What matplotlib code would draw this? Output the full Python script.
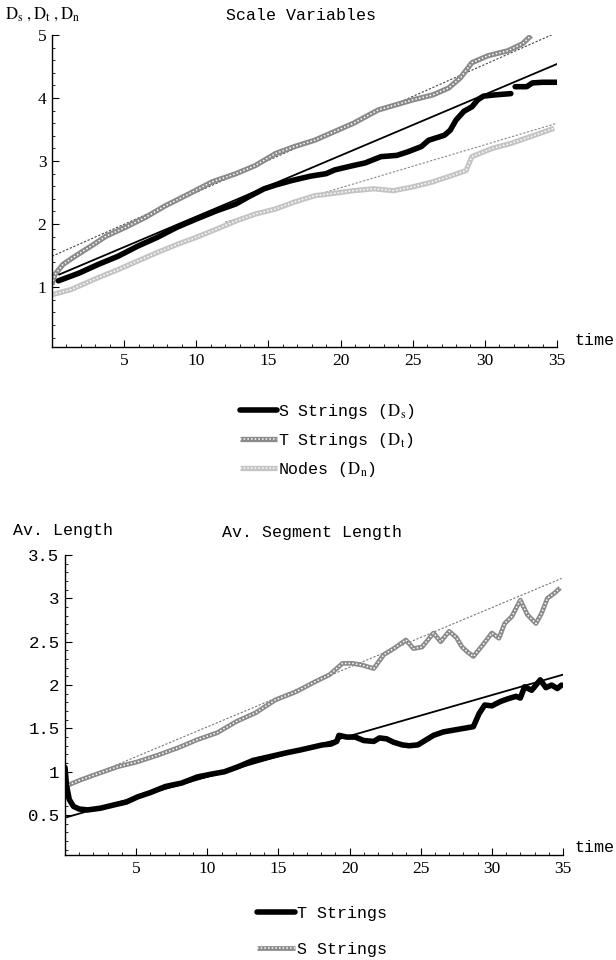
# plot.py - scale variables and average segment length vs time
import matplotlib
matplotlib.use("Agg")
import matplotlib.pyplot as plt
from matplotlib.legend_handler import HandlerTuple

plt.rcParams["mathtext.fontset"] = "stix"

# --- top panel: scale variables ---
s_t = [0.44, 1.85, 3.2, 4.58, 5.94, 7.3, 8.66, 10.0, 11.4, 12.75, 13.6, 14.7, 15.5,
       16.6, 17.9, 19.0, 19.6, 20.9, 21.7, 22.8, 23.9, 24.7, 25.6, 26.1, 27.2, 27.6,
       28.0, 28.55, 29.1, 29.5, 29.9, 30.7, 31.8]
s_v = [1.10, 1.22, 1.36, 1.49, 1.65, 1.79, 1.95, 2.08, 2.21, 2.32, 2.43, 2.56, 2.62,
       2.69, 2.76, 2.80, 2.86, 2.93, 2.97, 3.07, 3.09, 3.15, 3.23, 3.33, 3.41, 3.49,
       3.65, 3.79, 3.86, 3.97, 4.03, 4.05, 4.07]
s2_t = [32.1, 32.9, 33.3, 34.0, 35.0]
s2_v = [4.18, 4.18, 4.24, 4.25, 4.25]

t_t = [0.0, 0.2, 0.76, 1.6, 2.7, 3.76, 5.1, 6.5, 7.85, 9.5, 11.1, 12.75, 14.1, 15.5,
       16.8, 18.2, 19.6, 20.9, 22.6, 23.65, 25.0, 26.4, 27.5, 28.3, 29.1, 30.2, 31.6,
       32.6, 33.2]
t_v = [1.04, 1.20, 1.36, 1.49, 1.65, 1.81, 1.95, 2.11, 2.29, 2.48, 2.67, 2.80, 2.93,
       3.12, 3.23, 3.33, 3.47, 3.60, 3.81, 3.88, 3.97, 4.05, 4.16, 4.32, 4.56, 4.67,
       4.75, 4.86, 4.99]

n_t = [0.0, 1.3, 3.2, 4.6, 5.9, 7.3, 8.7, 10.0, 11.4, 12.75, 14.1, 15.5, 16.8, 18.2,
       19.6, 20.9, 22.3, 23.65, 25.0, 26.4, 27.7, 28.7, 29.1, 30.5, 31.8, 33.2, 34.8]
n_v = [0.88, 0.96, 1.15, 1.28, 1.41, 1.55, 1.68, 1.79, 1.92, 2.05, 2.16, 2.24, 2.35,
       2.45, 2.49, 2.53, 2.56, 2.53, 2.59, 2.67, 2.77, 2.85, 3.07, 3.20, 3.28, 3.39, 3.52]

s_fit_t, s_fit_v = [0.5, 35.0], [1.20, 4.54]
t_fit_t, t_fit_v = [0.0, 35.0], [1.49, 5.04]
n_fit_t, n_fit_v = [12.0, 35.0], [2.03, 3.60]

# --- bottom panel: average segment length ---
bt_t = [0.0, 0.1, 0.3, 0.6, 1.0, 1.6, 2.5, 3.5, 4.3, 5.1, 6.0, 7.06, 8.2, 9.3, 10.2,
        11.2, 12.2, 13.2, 14.0, 14.8, 15.6, 16.5, 17.3, 18.1, 18.7, 19.1, 19.25, 19.8,
        20.4, 21.0, 21.7, 22.1, 22.6, 23.1, 23.7, 24.2, 24.8, 25.4, 25.9, 26.6, 27.3,
        28.0, 28.7, 29.1, 29.5, 30.0, 30.6, 31.1, 31.7, 32.0, 32.3, 32.8, 33.1, 33.4,
        33.8, 34.2, 34.6, 34.9]
bt_v = [1.05, 0.85, 0.68, 0.60, 0.57, 0.56, 0.58, 0.62, 0.65, 0.71, 0.76, 0.83, 0.87,
        0.94, 0.97, 1.00, 1.06, 1.13, 1.16, 1.19, 1.22, 1.25, 1.28, 1.31, 1.32, 1.35,
        1.42, 1.40, 1.40, 1.36, 1.35, 1.39, 1.38, 1.34, 1.31, 1.30, 1.31, 1.37, 1.42,
        1.46, 1.48, 1.50, 1.52, 1.67, 1.77, 1.76, 1.81, 1.84, 1.87, 1.85, 1.98, 1.94,
        2.00, 2.06, 1.97, 2.00, 1.96, 2.00]

bs_t = [0.0, 1.0, 2.0, 3.74, 5.0, 6.5, 8.0, 9.3, 10.7, 12.05, 13.4, 14.8, 16.2, 17.6,
        18.6, 19.5, 20.2, 20.9, 21.7, 22.4, 23.1, 23.96, 24.5, 25.1, 25.9, 26.4, 27.0,
        27.5, 27.9, 28.3, 28.7, 29.3, 30.0, 30.5, 30.9, 31.4, 32.0, 32.5, 33.1, 33.5,
        33.9, 34.4, 34.8]
bs_v = [0.83, 0.90, 0.96, 1.06, 1.11, 1.19, 1.28, 1.37, 1.45, 1.58, 1.68, 1.83, 1.92,
        2.04, 2.12, 2.25, 2.25, 2.23, 2.19, 2.35, 2.42, 2.52, 2.42, 2.44, 2.60, 2.50,
        2.62, 2.55, 2.44, 2.38, 2.33, 2.45, 2.60, 2.54, 2.71, 2.79, 2.98, 2.81, 2.71,
        2.83, 3.00, 3.06, 3.12]

bs_fit_t, bs_fit_v = [0.0, 34.9], [0.83, 3.23]
bt_fit_t, bt_fit_v = [0.0, 35.0], [0.47, 2.12]

mono = "Liberation Mono"
serif = "Liberation Serif"

fig = plt.figure(figsize=(6.16, 9.6), dpi=100)


def style_axes(ax, ylim, yticks, ylabels, yminor, tickfont):
    ax.set_xlim(0, 35)
    ax.set_ylim(*ylim)
    for side in ("top", "right"):
        ax.spines[side].set_visible(False)
    ax.spines["left"].set_linewidth(1.0)
    ax.spines["bottom"].set_linewidth(1.0)
    ax.set_xticks([5, 10, 15, 20, 25, 30, 35])
    ax.set_xticks(range(1, 35), minor=True)
    ax.set_yticks(yticks)
    ax.set_yticklabels(ylabels)
    ax.set_yticks(yminor, minor=True)
    ax.tick_params(which="major", direction="in", length=5, width=0.8, pad=4)
    ax.tick_params(which="minor", direction="in", length=2.5, width=0.6)
    for lab in ax.get_xticklabels():
        lab.set_fontfamily(serif)
        lab.set_fontsize(12.5)
    for lab in ax.get_yticklabels():
        lab.set_fontfamily(tickfont)
        lab.set_fontsize(12.5)


def hatched(ax, x, y, base, lw=3.8):
    a, = ax.plot(x, y, color=base, lw=lw, solid_capstyle="butt")
    b, = ax.plot(x, y, color="white", lw=1.1, linestyle=(0, (1, 1.4)))
    return (a, b)


tuple_map = {tuple: HandlerTuple(ndivide=1, pad=0)}

# top chart
ax1 = fig.add_axes([52 / 616, 1 - 347 / 960, 505 / 616, 312 / 960])
ax1.plot(n_fit_t, n_fit_v, color="#888888", lw=0.8, linestyle=(0, (2, 1.5)))
h_n = hatched(ax1, n_t, n_v, "#c4c4c4")
ax1.plot(t_fit_t, t_fit_v, color="#444444", lw=0.8, linestyle=(0, (2, 1.5)))
h_t = hatched(ax1, t_t, t_v, "#8a8a8a")
ax1.plot(s_fit_t, s_fit_v, color="black", lw=1.3)
h_s, = ax1.plot(s_t, s_v, color="black", lw=4, solid_capstyle="round")
ax1.plot(s2_t, s2_v, color="black", lw=4, solid_capstyle="round")
style_axes(ax1, (0.05, 5.0), [1, 2, 3, 4, 5], ["1", "2", "3", "4", "5"],
           [x / 5 for x in range(1, 25)], serif)

fig.text(5 / 616, 1 - 14 / 960, r"$\mathrm{D_s\ ,D_t\ ,D_n}$", fontsize=12, va="center")
fig.text(301 / 616, 1 - 15 / 960, "Scale Variables", family=mono, fontsize=12,
         ha="center", va="center")
fig.text(574 / 616, 1 - 340 / 960, "time", family=mono, fontsize=12, va="center")

fig.legend([h_s, h_t, h_n],
           [r"S Strings ($\mathrm{D_s}$)", r"T Strings ($\mathrm{D_t}$)",
            r"Nodes ($\mathrm{D_n}$)"],
           handler_map=tuple_map,
           loc="upper left", bbox_to_anchor=(240 / 616, 1 - 402 / 960),
           frameon=False, handlelength=2.2, handletextpad=0.1,
           labelspacing=0.6, borderaxespad=0, borderpad=0,
           prop={"family": mono, "size": 12})

# bottom chart
ax2 = fig.add_axes([65 / 616, 1 - 855 / 960, 498 / 616, 300 / 960])
ax2.plot(bs_fit_t, bs_fit_v, color="#777777", lw=0.8, linestyle=(0, (2, 1.5)))
h_bs = hatched(ax2, bs_t, bs_v, "#8a8a8a", lw=3.4)
ax2.plot(bt_fit_t, bt_fit_v, color="black", lw=1.3)
h_bt, = ax2.plot(bt_t, bt_v, color="black", lw=4, solid_capstyle="round")
style_axes(ax2, (0.04, 3.5), [0.5, 1, 1.5, 2, 2.5, 3, 3.5],
           ["0.5", "1", "1.5", "2", "2.5", "3", "3.5"],
           [x / 10 for x in range(1, 35)], mono)

fig.text(13 / 616, 1 - 531 / 960, "Av. Length", family=mono, fontsize=12, va="center")
fig.text(312 / 616, 1 - 533 / 960, "Av. Segment Length", family=mono, fontsize=12,
         ha="center", va="center")
fig.text(575 / 616, 1 - 848 / 960, "time", family=mono, fontsize=12, va="center")

fig.legend([h_bt, h_bs], ["T Strings", "S Strings"],
           handler_map=tuple_map,
           loc="upper left", bbox_to_anchor=(257 / 616, 1 - 906 / 960),
           frameon=False, handlelength=2.3, handletextpad=0.1,
           labelspacing=1.25, borderaxespad=0, borderpad=0,
           prop={"family": mono, "size": 12})

fig.savefig("out.png", dpi=100)
